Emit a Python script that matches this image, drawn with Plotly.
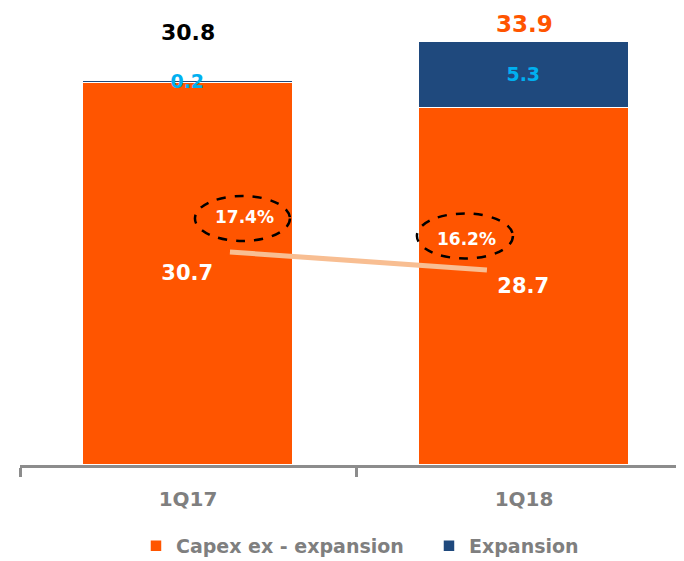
import plotly.graph_objects as go

categories = ["1Q17", "1Q18"]
capex_ex_expansion = [30.7, 28.7]
expansion = [0.2, 5.3]
totals = [30.8, 33.9]
pct = [17.4, 16.2]
pct_labels = ["17.4%", "16.2%"]

ORANGE = "#FF5500"
BLUE = "#1F497D"
LIGHTBLUE = "#00B0F0"
GREY = "#7F7F7F"
FONT = "DejaVu Sans"

fig = go.Figure()
fig.add_trace(go.Bar(
    x=categories, y=capex_ex_expansion, name="<b>Capex ex - expansion</b>",
    marker=dict(color=ORANGE, line=dict(color="white", width=1.5)),
    width=0.625, text=[f"<b>{v:.1f}</b>" for v in capex_ex_expansion],
    textposition="inside", insidetextanchor="middle",
    textfont=dict(color="white", size=21, family=FONT), constraintext="none",
))
fig.add_trace(go.Bar(
    x=categories, y=expansion, name="<b>Expansion</b>",
    marker=dict(color=BLUE, line=dict(color="white", width=1.5)),
    width=0.625, text=[f"<b>{v:.1f}</b>" for v in expansion],
    textposition="inside", insidetextanchor="middle",
    textfont=dict(color=LIGHTBLUE, size=19, family=FONT), constraintext="none",
))
fig.add_trace(go.Scatter(
    x=categories, y=pct, xaxis="x2", yaxis="y2", mode="lines",
    line=dict(color="#F8BE92", width=5), showlegend=False, hoverinfo="skip",
))

annotations = []
total_colors = ["black", ORANGE]
total_sizes = [22, 23]
total_shift = [50, 20]
for c, t, col, sz, sh in zip(categories, totals, total_colors, total_sizes, total_shift):
    annotations.append(dict(x=c, y=t, xref="x", yref="y", text=f"<b>{t:.1f}</b>",
                            showarrow=False, yshift=sh,
                            font=dict(color=col, size=sz, family=FONT)))
pct_shift = [(15, 35), (-20, 31)]
for c, p, lab, (dx, dy) in zip(categories, pct, pct_labels, pct_shift):
    annotations.append(dict(x=c, y=p, xref="x2", yref="y2", text=f"<b>{lab}</b>",
                            showarrow=False, xshift=dx, yshift=dy,
                            font=dict(color="white", size=17, family=FONT)))

shapes = []
ell = [(-35, 60, 11, 56), (-70, 26, 11.5, 56.5)]
for i, (p, (x0, x1, y0, y1)) in enumerate(zip(pct, ell)):
    shapes.append(dict(type="circle", xref="x2", yref="y2", xsizemode="pixel",
                       ysizemode="pixel", xanchor=i, yanchor=p,
                       x0=x0, x1=x1, y0=y0, y1=y1,
                       line=dict(color="black", width=2.5, dash="dash")))

fig.update_layout(
    width=684, height=561, barmode="stack",
    margin=dict(l=12, r=0, t=2, b=104, autoexpand=False),
    paper_bgcolor="white", plot_bgcolor="white",
    font=dict(family=FONT, color=GREY),
    xaxis=dict(type="category", range=[-0.5, 1.5], tickson="boundaries",
               ticks="outside", ticklen=9, tickwidth=3, tickcolor="#8C8C8C",
               showline=True, linecolor="#8C8C8C", linewidth=3,
               tickvals=categories, ticktext=[f"<b>{c}</b>" for c in categories],
               tickfont=dict(size=20, color=GREY, family=FONT),
               ticklabelstandoff=14, showgrid=False, zeroline=False,
               automargin=False),
    yaxis=dict(range=[0, 36.6], visible=False, showgrid=False, automargin=False),
    xaxis2=dict(type="category", overlaying="x", range=[-0.817, 1.798],
                visible=False, categoryarray=categories, anchor="y2"),
    yaxis2=dict(overlaying="y", range=[3.2, 33.53], visible=False, anchor="x2"),
    legend=dict(orientation="h", x=0.1726, xanchor="left", y=-0.178, yanchor="middle",
                font=dict(size=19, color=GREY, family=FONT), traceorder="normal",
                entrywidth=248, entrywidthmode="pixels"),
    annotations=annotations, shapes=shapes, bargap=0,
)

fig.write_html("out.html")
